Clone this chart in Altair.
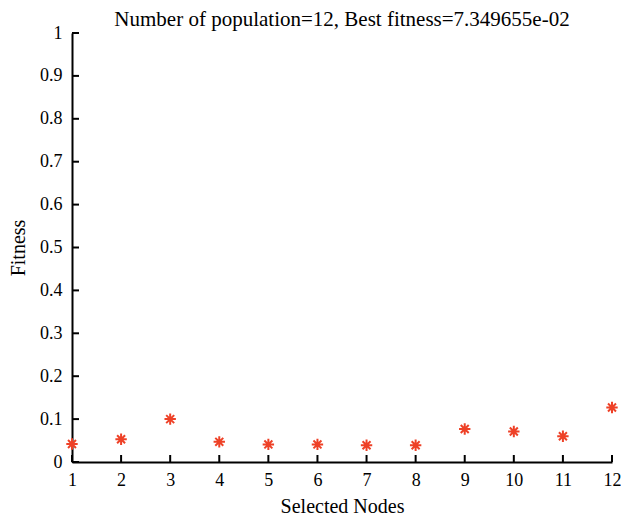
import altair as alt
import pandas as pd

nodes = [1, 2, 3, 4, 5, 6, 7, 8, 9, 10, 11, 12]
fitness = [0.042, 0.053, 0.100, 0.047, 0.041, 0.041, 0.039, 0.039, 0.077, 0.071, 0.060, 0.127]
x_ticks = list(range(1, 13))
y_ticks = [0, 0.1, 0.2, 0.3, 0.4, 0.5, 0.6, 0.7, 0.8, 0.9, 1.0]
title_text = "Number of population=12, Best fitness=7.349655e-02"

W, H = 540, 429
FONT = "Liberation Serif"
RED = "#ee4127"

df = pd.DataFrame({"node": nodes, "fitness": fitness})
xt = pd.DataFrame({"node": x_ticks})
yt = pd.DataFrame({"fitness": y_ticks})

xscale = alt.Scale(domain=[1, 12], nice=False, zero=False)
yscale = alt.Scale(domain=[0, 1], nice=False)

asterisk = "M-1,0L1,0M0,-1L0,1M-0.7,-0.7L0.7,0.7M-0.7,0.7L0.7,-0.7"

points = alt.Chart(df).mark_point(
    shape=asterisk, filled=False, color=RED, strokeWidth=2, size=130, opacity=1
).encode(
    x=alt.X("node:Q", scale=xscale, title="Selected Nodes",
            axis=alt.Axis(values=x_ticks, format="d", ticks=False, grid=False,
                          labelFlush=False,
                          domainColor="black", domainWidth=2,
                          labelFont=FONT, labelFontSize=18, labelColor="black",
                          labelPadding=9, titleFont=FONT, titleFontSize=20,
                          titleFontWeight="normal", titleColor="black", titlePadding=7)),
    y=alt.Y("fitness:Q", scale=yscale, title="Fitness",
            axis=alt.Axis(values=y_ticks, format="~g", ticks=False, grid=False,
                          labelFlush=False,
                          domainColor="black", domainWidth=2,
                          labelFont=FONT, labelFontSize=18, labelColor="black",
                          labelPadding=10, titleFont=FONT, titleFontSize=20,
                          titleFontWeight="normal", titleColor="black", titlePadding=11)),
)

xtick_rules = alt.Chart(xt).mark_rule(color="black", strokeWidth=2).encode(
    x=alt.X("node:Q", scale=xscale),
    y=alt.value(H),
    y2=alt.value(H - 7),
)

ytick_rules = alt.Chart(yt).mark_rule(color="black", strokeWidth=2).encode(
    y=alt.Y("fitness:Q", scale=yscale),
    x=alt.value(0),
    x2=alt.value(7),
)

chart = alt.layer(xtick_rules, ytick_rules, points).properties(
    width=W,
    height=H,
    background="white",
    title=alt.TitleParams(title_text, font=FONT, fontSize=21, fontWeight="normal",
                          color="black", anchor="middle", offset=8, dy=14),
    autosize=alt.AutoSizeParams(type="none"),
    padding={"left": 64, "top": 25, "right": 9, "bottom": 56},
).configure_view(strokeWidth=0, stroke="transparent")

chart.save("out.html", embed_options={"renderer": "svg", "actions": False})
